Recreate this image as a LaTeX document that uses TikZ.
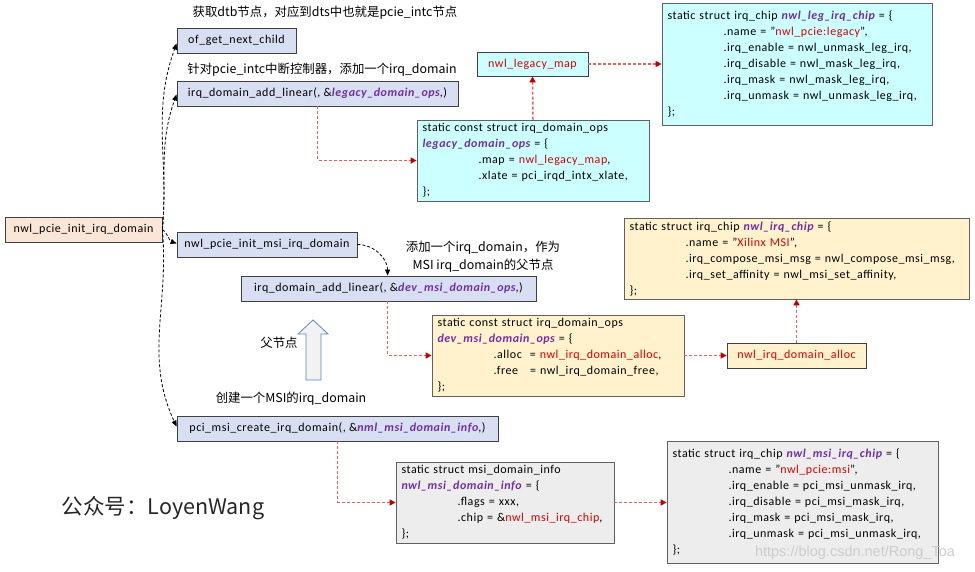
\documentclass[tikz,border=0pt]{standalone}
\usepackage{fontspec}
\setmainfont{Carlito}[LetterSpace=4.5]
\newfontfamily\cjk{Noto Sans CJK SC}
\newfontfamily\wmfont{Liberation Sans}
\usetikzlibrary{arrows.meta,shadows}
\definecolor{funcblue}{HTML}{D9DFF2}
\definecolor{peach}{HTML}{FBE5D6}
\definecolor{cyanbox}{HTML}{CCFFFF}
\definecolor{yelbox}{HTML}{FFF2CC}
\definecolor{graybox}{HTML}{EDEDED}
\definecolor{cpurple}{HTML}{7030A0}
\definecolor{cred}{HTML}{D40000}
\definecolor{dashred}{HTML}{E06464}
\definecolor{tipred}{HTML}{C00000}
\definecolor{bigborder}{HTML}{5B87C0}
\newcommand{\cpu}[1]{\textcolor{cpurple}{\bfseries\itshape #1}}
\newcommand{\crd}[1]{\textcolor{cred}{#1}}
\newcommand{\codeind}{\hspace*{56pt}}
\begin{document}
\begin{tikzpicture}[x=1pt,y=1pt,
  shad/.style={drop shadow={shadow xshift=1.2pt,shadow yshift=-1.2pt,fill=black!18}},
  fbox/.style={draw=black!75, line width=0.8pt, inner sep=0pt, minimum height=25pt,
    font=\fontsize{12}{16}\selectfont, shad},
  cbox/.style={draw=black!62, line width=0.8pt, inner xsep=5.5pt, inner ysep=0pt, align=left,
    font=\fontsize{12}{16}\selectfont, shad},
  lab/.style={inner sep=0pt, font=\cjk\fontsize{12.4}{18}\selectfont, align=center},
  reddash/.style={draw=dashred, line width=1.5pt, dash pattern=on 3pt off 2pt,
    -{Triangle[length=6pt,width=6pt,color=tipred]}},
  blkdash/.style={draw=black, line width=0.8pt, dash pattern=on 3pt off 2pt,
    -{Triangle[length=6pt,width=5pt]}},
  bigarrow/.style={draw=bigborder, line width=0.8pt, fill=black!5}
]
\fill[white] (0,0) rectangle (975,571);
\useasboundingbox (0,0) rectangle (975,571);

% function boxes
\node[fbox, fill=peach, minimum width=157pt] (init) at (83.5,341.5) {nwl\_pcie\_init\_irq\_domain};
\node[fbox, fill=funcblue, minimum width=119pt] (ofnext) at (236.5,530.5) {of\_get\_next\_child};
\node[fbox, fill=funcblue, minimum width=281pt] (addleg) at (317.5,477.5) {irq\_domain\_add\_linear(, \&\cpu{legacy\_domain\_ops},)};
\node[fbox, fill=funcblue, minimum width=180pt] (msidom) at (267,326.5) {nwl\_pcie\_init\_msi\_irq\_domain};
\node[fbox, fill=funcblue, minimum width=295pt] (adddev) at (388.5,282.5) {irq\_domain\_add\_linear(, \&\cpu{dev\_msi\_domain\_ops},)};
\node[fbox, fill=funcblue, minimum width=321pt] (pcicreate) at (337.5,142.5) {pci\_msi\_create\_irq\_domain(, \&\cpu{nml\_msi\_domain\_info},)};
\node[fbox, fill=cyanbox, minimum width=111pt, minimum height=24pt] (legmap) at (532.5,507) {\crd{nwl\_legacy\_map}};
\node[fbox, fill=yelbox, minimum width=139pt] (alloc) at (796.5,215.5) {\crd{nwl\_irq\_domain\_alloc}};

% code boxes
\node[cbox, fill=cyanbox, minimum width=232pt, text width=221pt, minimum height=81pt] (legops) at (533,410.5)
 {static const struct irq\_domain\_ops\\
  \cpu{legacy\_domain\_ops} = \{\\
  \codeind.map = \crd{nwl\_legacy\_map},\\
  \codeind.xlate = pci\_irqd\_intx\_xlate,\\
  \};};
\node[cbox, fill=cyanbox, minimum width=270pt, text width=259pt, minimum height=122pt] (legchip) at (797,507)
 {static struct irq\_chip \cpu{nwl\_leg\_irq\_chip} = \{\\
  \codeind.name = "\crd{nwl\_pcie:legacy}",\\
  \codeind.irq\_enable = nwl\_unmask\_leg\_irq,\\
  \codeind.irq\_disable = nwl\_mask\_leg\_irq,\\
  \codeind.irq\_mask = nwl\_mask\_leg\_irq,\\
  \codeind.irq\_unmask = nwl\_unmask\_leg\_irq,\\
  \};};
\node[cbox, fill=yelbox, minimum width=252pt, text width=241pt, minimum height=81pt] (devops) at (558,215.5)
 {static const struct irq\_domain\_ops\\
  \cpu{dev\_msi\_domain\_ops} = \{\\
  \codeind.alloc\ \ = \crd{nwl\_irq\_domain\_alloc},\\
  \codeind.free\ \ \ = nwl\_irq\_domain\_free,\\
  \};};
\node[cbox, fill=yelbox, minimum width=345pt, text width=334pt, minimum height=81pt] (irqchip) at (796.5,312.5)
 {static struct irq\_chip \cpu{nwl\_irq\_chip} = \{\\
  \codeind.name = "\crd{Xilinx MSI}",\\
  \codeind.irq\_compose\_msi\_msg = nwl\_compose\_msi\_msg,\\
  \codeind.irq\_set\_affinity = nwl\_msi\_set\_affinity,\\
  \};};
\node[cbox, fill=graybox, minimum width=218pt, text width=207pt, minimum height=81pt] (msiinfo) at (505,68.5)
 {static struct msi\_domain\_info\\
  \cpu{nwl\_msi\_domain\_info} = \{\\
  \codeind.flags = xxx,\\
  \codeind.chip = \&\crd{nwl\_msi\_irq\_chip},\\
  \};};
\node[cbox, fill=graybox, minimum width=271pt, text width=260pt, minimum height=122pt] (msichip) at (802.5,69)
 {static struct irq\_chip \cpu{nwl\_msi\_irq\_chip} = \{\\
  \codeind.name = "\crd{nwl\_pcie:msi}",\\
  \codeind.irq\_enable = pci\_msi\_unmask\_irq,\\
  \codeind.irq\_disable = pci\_msi\_mask\_irq,\\
  \codeind.irq\_mask = pci\_msi\_mask\_irq,\\
  \codeind.irq\_unmask = pci\_msi\_unmask\_irq,\\
  \};};

% labels
\node[lab] (lab1) at (325,558) {获取dtb节点，对应到dts中也就是pcie\_intc节点};
\node[lab] (lab2) at (322,501) {针对pcie\_intc中断控制器，添加一个irq\_domain};
\node[lab] (lab3) at (483,314) {添加一个irq\_domain，作为\\MSI irq\_domain的父节点};
\node[lab] (lab4) at (279,228) {父节点};
\node[lab] (lab5) at (291,172) {创建一个MSI的irq\_domain};
\node[inner sep=0pt, font=\cjk\fontsize{21.5}{24}\selectfont, text=black!85] (lab6) at (163,63) {公众号：LoyenWang};
\node[inner sep=0pt, font=\wmfont\fontsize{14.5}{16}\selectfont, text=black!20] (wm) at (855,18) {https://blog.csdn.net/Rong\_Toa};

% big hollow arrow
\draw[bigarrow] (306,191) -- (306,237) -- (298,237) -- (313,251) -- (328,237) -- (321,237) -- (321,191) -- cycle;

% red dashed connectors
\draw[reddash] ([xshift=141pt]addleg.south west) |- (legops.west);
\draw[reddash] (legops.north) -- (legmap.south);
\draw[reddash] (legmap.east) -- (legmap.east -| legchip.west);
\draw[reddash] ([xshift=147pt]adddev.south west) |- (devops.west);
\draw[reddash] (devops.east) -- (alloc.west);
\draw[reddash] (alloc.north) -- (alloc.north |- irqchip.south);
\draw[reddash] ([xshift=161pt]pcicreate.south west) |- (msiinfo.west);
\draw[reddash] (msiinfo.east) -- (msiinfo.east -| msichip.west);

% black dashed connectors
\draw[blkdash] (msidom.east) to[out=0,in=90] ([xshift=147pt]adddev.north west);
\draw[blkdash] (init.east) to[out=85,in=250] ([yshift=-3pt]ofnext.west);
\draw[blkdash] (init.east) to[out=85,in=250] ([yshift=-1pt]addleg.west);
\draw[blkdash] (init.east) to[out=-40,in=160] ([yshift=1pt]msidom.west);
\draw[blkdash] (init.east) to[out=-85,in=115] ([yshift=2pt]pcicreate.west);
\end{tikzpicture}
\end{document}
